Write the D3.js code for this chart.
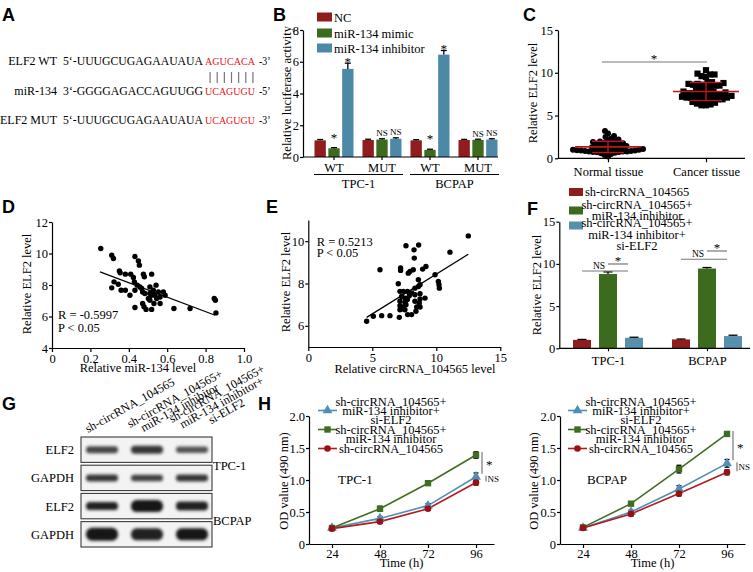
<!DOCTYPE html>
<html><head><meta charset="utf-8">
<script src="https://cdn.jsdelivr.net/npm/d3@7/dist/d3.min.js"></script>
<style>html,body{margin:0;padding:0;background:#fff;}svg{display:block;}</style>
</head><body>
<svg id="fig" width="753" height="572" xmlns="http://www.w3.org/2000/svg"></svg>
<script>
/* ================= DATA ================= */
// A – sequences
const seqLabels = ["ELF2 WT","miR-134","ELF2 MUT"];
const seqHeads  = ["5‘-UUUGCUGAGAAUAUA","3‘-GGGGAGACCAGUUGG","5‘-UUUGCUGAGAAUAUA"];
const seqSites  = ["AGUCACA","UCAGUGU","UCAGUGU"];
const seqTails  = ["-3’","-5’","-3’"];
// B – luciferase
const bGroups = ["WT","MUT","WT","MUT"];
const bCells  = ["TPC-1","BCPAP"];
const bSeries = ["NC","miR-134 mimic","miR-134 inhibitor"];
const bNC       = [1.05,1.07,1.05,1.07];
const bMimic    = [0.55,1.10,0.45,1.08];
const bInhib    = [5.55,1.15,6.45,1.10];
const bNCErr    = [0.05,0.05,0.04,0.04];
const bMimicErr = [0.04,0.05,0.04,0.04];
const bInhibErr = [0.36,0.06,0.26,0.05];
const bMarks = [["","*","*"],["","NS","NS"],["","*","*"],["","NS","NS"]];
// C – tissue scatter
const cGroups = ["Normal tissue","Cancer tissue"];
const cNormal = [3.2,2.9,2.6,2.5,2.3,2.2,2.1,2.0,1.95,1.9,1.85,1.8,1.75,1.7,1.65,1.6,1.55,1.5,1.45,1.4,1.35,1.3,1.25,1.2,1.2,1.15,1.1,1.1,1.05,1.0,1.0,0.95,0.95,0.9,0.9,0.9,0.85,0.85,0.8,0.8,0.8,0.75,0.75,0.7,0.7,0.65,0.6,0.5,0.4,0.2];
const cCancer = [10.3,9.9,9.8,9.8,9.6,9.5,8.9,8.8,8.8,8.7,8.7,8.6,8.6,8.5,8.5,8.4,8.3,8.2,8.0,7.9,7.8,7.8,7.7,7.7,7.6,7.6,7.5,7.5,7.4,7.4,7.3,7.3,7.2,7.2,7.1,7.1,7.1,7.0,7.0,6.9,6.9,6.8,6.8,6.7,6.6,6.5,6.4,6.3,6.2,6.2];
// D – miR-134 vs ELF2
const dX = [0.254,0.311,0.320,0.311,0.323,0.345,0.351,0.355,0.360,0.382,0.382,0.406,0.410,0.424,0.429,0.432,0.450,0.455,0.432,0.444,0.432,0.458,0.467,0.476,0.481,0.472,0.484,0.472,0.479,0.490,0.519,0.510,0.510,0.510,0.519,0.528,0.542,0.536,0.545,0.554,0.563,0.563,0.580,0.589,0.531,0.635,0.719,0.845,0.851,0.854,0.502,0.519];
const dY = [10.32,9.89,9.68,7.82,8.20,8.05,8.89,8.78,7.67,7.67,8.69,7.35,8.69,8.48,8.20,9.81,9.53,9.26,7.67,7.99,6.57,7.88,7.78,8.69,8.52,7.56,7.46,6.83,6.62,6.45,8.69,7.88,7.46,7.03,6.45,7.67,7.99,7.35,7.14,7.56,7.24,6.83,7.56,7.35,6.83,6.51,6.51,7.14,7.03,6.23,7.14,7.35];
const dFitX = [0.25,0.85], dFitY = [8.83,6.08];
const dStats = ["R = -0.5997","P < 0.05"];
// E – circRNA vs ELF2
const eX = [12.5,11.07,7.63,8.62,8.26,8.28,5.6,7.21,7.21,7.81,7.94,8.2,8.93,9.19,9.9,10.16,10.21,10.24,8.6,7.03,8.73,7.16,7.42,7.74,8.33,8.6,8.08,8.33,8.73,7.29,7.55,7.89,8.73,9.12,7.16,7.55,7.74,8.33,8.67,7.16,7.42,7.63,7.16,7.37,7.76,8.07,7.11,6.38,5.73,5.08,4.56,8.41,8.47,7.55,8.73];
const eY = [10.25,9.48,9.78,9.82,9.59,9.2,8.65,8.73,8.62,8.49,8.57,8.65,8.68,8.8,8.41,8.1,7.94,7.78,8.18,7.99,7.94,7.63,7.63,7.63,7.78,7.86,7.55,7.47,7.52,7.39,7.31,7.42,7.27,7.31,7.16,7.11,7.24,7.16,7.08,6.95,6.89,7.0,6.76,6.8,6.53,6.53,6.4,6.48,6.48,6.45,6.22,6.69,6.89,6.76,6.89];
const eFitX = [4.56,12.5], eFitY = [6.4,9.38];
const eStats = ["R = 0.5213","P < 0.05"];
// F – ELF2 level bars
const fCats = ["TPC-1","BCPAP"];
const fLegend = [["sh-circRNA_104565"],["sh-circRNA_104565+","miR-134 inhibitor"],["sh-circRNA_104565+","miR-134 inhibitor+","si-ELF2"]];
const fCtrl = [1.00,1.05], fCtrlErr = [0.05,0.05];
const fInh  = [8.80,9.45], fInhErr  = [0.25,0.12];
const fSi   = [1.25,1.45], fSiErr   = [0.06,0.10];
const fNsLine = [9.16,10.55], fStarLine = [9.99,11.53];
// G – western blot
const gLanes = [["sh-circRNA_104565"],["sh-circRNA_104565+","miR-134 inhibitor"],["sh-circRNA_104565+","miR-134 inhibitor+","si-ELF2"]];
const gRows  = ["ELF2","GAPDH","ELF2","GAPDH"];
const gCells = ["TPC-1","BCPAP"];
const gBandH = [[7,8,6.5],[7,6.5,7],[8,12,9],[13,12,12]];
const gBandI = [[0.78,0.85,0.72],[0.85,0.8,0.85],[0.95,1,0.95],[1,0.95,1]];
// H – CCK-8 curves
const hTimes = [24,48,72,96];
const hLegend = [["sh-circRNA_104565+","miR-134 inhibitor+","si-ELF2"],["sh-circRNA_104565+","miR-134 inhibitor"],["sh-circRNA_104565"]];
const hTpcSi   = [0.25,0.40,0.60,1.05], hTpcSiErr   = [0.02,0.03,0.03,0.06];
const hTpcInh  = [0.25,0.55,0.95,1.39], hTpcInhErr  = [0.02,0.04,0.03,0.05];
const hTpcCtrl = [0.24,0.35,0.55,0.96], hTpcCtrlErr = [0.02,0.03,0.02,0.04];
const hBcSi    = [0.25,0.50,0.86,1.26], hBcSiErr    = [0.02,0.03,0.05,0.06];
const hBcInh   = [0.26,0.63,1.17,1.72], hBcInhErr   = [0.02,0.02,0.06,0.03];
const hBcCtrl  = [0.25,0.47,0.79,1.12], hBcCtrlErr  = [0.02,0.03,0.04,0.04];

/* ================= HELPERS ================= */
const svg = d3.select("#fig");
const SERIF = "'Liberation Serif','Times New Roman',Times,serif";
const SANS = "'Liberation Sans',Arial,Helvetica,sans-serif";
svg.attr("font-family", SERIF);
svg.append("rect").attr("width",753).attr("height",572).attr("fill","#fff");

function letter(t,x,y){ svg.append("text").attr("x",x).attr("y",y).attr("font-family",SANS).attr("font-weight","bold").attr("font-size",18).text(t); }
function txt(t,x,y,o={}){ return svg.append("text").attr("x",x).attr("y",y).attr("font-size",o.fs||12.5).attr("text-anchor",o.anchor||"start").attr("fill",o.fill||"#000").text(t); }
function ylab(t,x,y){ svg.append("text").attr("transform",`translate(${x},${y}) rotate(-90)`).attr("text-anchor","middle").attr("font-size",12.5).text(t); }
function axisG(tx,ty,ax,domainD){
  const g = svg.append("g").attr("transform",`translate(${tx},${ty})`).call(ax);
  g.attr("font-family",SERIF).attr("font-size",12.5);
  g.selectAll(".domain, .tick line").attr("stroke","#000").attr("stroke-width",1.2);
  g.selectAll(".tick text").attr("fill","#000");
  if(domainD) g.select(".domain").attr("d",domainD);
  return g;
}
function line(x1,y1,x2,y2,c="#000",w=1.2){ return svg.append("line").attr("x1",x1).attr("y1",y1).attr("x2",x2).attr("y2",y2).attr("stroke",c).attr("stroke-width",w); }
function errBar(x,y0,y1,cap,both,y2){ line(x,y0,x,y1,"#000",1.3); line(x-cap/2,y1,x+cap/2,y1,"#000",1.3); if(both){ line(x,y0,x,y2,"#000",1.3); line(x-cap/2,y2,x+cap/2,y2,"#000",1.3);} }
const fmt1 = d => d===0 ? "0" : d3.format(".1f")(d);
const fmtInt = d3.format("d");

/* ================= A ================= */
letter("A",2,21);
const aY = [65,95,124];
seqLabels.forEach((l,i)=>{
  txt(l,57,aY[i],{anchor:"end",fs:12});
  svg.append("text").attr("x",63).attr("y",aY[i]).attr("font-size",12).attr("textLength",140).attr("lengthAdjust","spacingAndGlyphs").text(seqHeads[i]);
  svg.append("text").attr("x",205).attr("y",aY[i]).attr("font-size",11).attr("fill","#e8141c").attr("textLength",50).attr("lengthAdjust","spacingAndGlyphs").text(seqSites[i]);
  svg.append("text").attr("x",259).attr("y",aY[i]).attr("font-size",11.5).attr("textLength",11.5).attr("lengthAdjust","spacingAndGlyphs").text(seqTails[i]);
});
d3.range(seqSites[0].length).forEach(k=>{
  const x = 205 + (k+0.5)*50/seqSites[0].length + 1.5;
  line(x,72,x,83,"#777",1.2);
});

/* ================= B ================= */
letter("B",273,21);
const bx0 = d3.scaleBand().domain(d3.range(bGroups.length)).range([310,502]);
const bx1 = d3.scaleBand().domain(d3.range(bSeries.length)).range([-19.5,19.5]).paddingInner(0.18);
const by  = d3.scaleLinear().domain([0,8]).range([157,30]);
const bColors = ["#8f1d1d","#3c6b20","#4d89a7"];
const bVals = [bNC,bMimic,bInhib], bErrs = [bNCErr,bMimicErr,bInhibErr];
bVals.forEach((vals,s)=>vals.forEach((v,g)=>{
  const w = bx1.bandwidth();
  const cx = bx0(g)+bx0.bandwidth()/2 + bx1(s) + w/2;
  svg.append("rect").attr("x",cx-w/2).attr("y",by(v)).attr("width",w).attr("height",by(0)-by(v)).attr("fill",bColors[s]);
  const top = by(v+bErrs[s][g]);
  errBar(cx,by(v),top,6);
  const m = bMarks[g][s];
  if(m==="*") txt("*",cx,top+(v>3?3:-6),{anchor:"middle",fs:13});
  else if(m) txt(m,cx,top-2.5,{anchor:"middle",fs:9});
}));
axisG(303,0,d3.axisLeft(by).tickValues([0,2,4,6,8]).tickFormat(fmtInt).tickSize(3).tickSizeOuter(0).tickPadding(1));
axisG(0,157,d3.axisBottom(bx0).tickSize(3).tickSizeOuter(0).tickPadding(3).tickFormat(i=>bGroups[i]),"M303,0H498");
[[0,1],[2,3]].forEach((pr,i)=>{
  const x1 = bx0(pr[0])+4, x2 = bx0(pr[1])+bx0.bandwidth()-3;
  line(x1,174.5,x2,174.5,"#000",1);
  txt(bCells[i],(x1+x2)/2,188,{anchor:"middle"});
});
ylab("Relative luciferase activity",291,93);
bSeries.forEach((s,i)=>{
  const yc = [17,33,48][i];
  svg.append("rect").attr("x",317).attr("y",yc-4.5).attr("width",15).attr("height",9).attr("fill",bColors[i]);
  txt(s,334,yc+4.5);
});

/* ================= C ================= */
letter("C",523,21);
const cy = d3.scaleLinear().domain([0,15]).range([158.3,30]);
const cxs = d3.scalePoint().domain(cGroups).range([608,706]);
function swarm(vals,ys,d){
  const pts = vals.map(v=>({v,y:ys(v)})).sort((a,b)=>a.v-b.v);
  const placed=[];
  pts.forEach(p=>{
    for(let k=0;k<600;k++){
      const off = (k%2===0?1:-1)*Math.ceil(k/2)*0.5;
      if(placed.every(q=>(q.x-off)**2+(q.y-p.y)**2 >= d*d)){ p.x=off; break; }
    }
    placed.push(p);
  });
  return placed;
}
swarm(cNormal,cy,3.8).forEach(p=>svg.append("circle").attr("cx",cxs(cGroups[0])+p.x).attr("cy",p.y).attr("r",3).attr("fill","#000"));
swarm(cCancer,cy,4.5).forEach(p=>svg.append("rect").attr("x",cxs(cGroups[1])+p.x-3.1).attr("y",p.y-3.1).attr("width",6.2).attr("height",6.2).attr("fill","#000"));
[cNormal,cCancer].forEach((vals,i)=>{
  const m = d3.mean(vals), sd = d3.deviation(vals), x = cxs(cGroups[i]);
  const c = "#c0141c";
  line(x-33,cy(m),x+33,cy(m),c,1.6);
  line(x,cy(m-sd),x,cy(m+sd),c,1.4);
  line(x-16,cy(m+sd),x+16,cy(m+sd),c,1.4);
  line(x-16,cy(m-sd),x+16,cy(m-sd),c,1.4);
});
axisG(558,0,d3.axisLeft(cy).tickValues([0,5,10,15]).tickFormat(fmtInt).tickSize(3).tickSizeOuter(0).tickPadding(2));
axisG(0,158.3,d3.axisBottom(cxs).tickSize(4).tickSizeOuter(0).tickPadding(5),"M558,0H745");
ylab("Relative ELF2 level",537,93);
line(cxs(cGroups[0])-6,62,cxs(cGroups[1])+1,62,"#777",1.2);
txt("*",(cxs(cGroups[0])+cxs(cGroups[1]))/2-3,63,{anchor:"middle",fs:13});

/* ================= D ================= */
letter("D",2,213);
const dxs = d3.scaleLinear().domain([0,1]).range([52,244]);
const dys = d3.scaleLinear().domain([4,12]).range([348,222]);
dX.forEach((x,i)=>svg.append("circle").attr("cx",dxs(x)).attr("cy",dys(dY[i])).attr("r",2.7).attr("fill","#000"));
line(dxs(dFitX[0]),dys(dFitY[0]),dxs(dFitX[1]),dys(dFitY[1]),"#000",1.3);
axisG(52,0,d3.axisLeft(dys).tickValues([4,6,8,10,12]).tickFormat(fmtInt).tickSize(3).tickSizeOuter(0).tickPadding(1));
axisG(0,348,d3.axisBottom(dxs).tickValues([0,0.2,0.4,0.6,0.8,1]).tickFormat(fmt1).tickSize(4).tickSizeOuter(0).tickPadding(2));
ylab("Relative ELF2 level",31,284);
txt("Relative miR-134 level",138,372,{anchor:"middle"});
txt(dStats[0],58,318.5); txt(dStats[1],58,332);

/* ================= E ================= */
letter("E",266,213);
const exs = d3.scaleLinear().domain([0,15]).range([308.3,500.3]);
const eys = d3.scaleLinear().domain([5,11]).range([347,220]);
eX.forEach((x,i)=>svg.append("circle").attr("cx",exs(x)).attr("cy",eys(eY[i])).attr("r",2.7).attr("fill","#000"));
line(exs(eFitX[0]),eys(eFitY[0]),exs(eFitX[1]),eys(eFitY[1]),"#000",1.3);
axisG(308.3,0,d3.axisLeft(eys).tickValues([6,8,10]).tickFormat(fmtInt).tickSize(3).tickSizeOuter(0).tickPadding(1));
axisG(0,347,d3.axisBottom(exs).tickValues([0,5,10,15]).tickFormat(fmtInt).tickSize(4).tickSizeOuter(0).tickPadding(2));
ylab("Relative ELF2 level",290,282);
txt("Relative circRNA_104565 level",415,372.5,{anchor:"middle"});
txt(eStats[0],316.7,245.5); txt(eStats[1],316.7,257);

/* ================= F ================= */
letter("F",527,215);
const fys = d3.scaleLinear().domain([0,15]).range([348.3,221.7]);
const fxs = d3.scalePoint().domain(fCats).range([608,707]);
const fColors = ["#8f1d1d","#3c6b20","#5690ad"];
const fVals = [fCtrl,fInh,fSi], fErrs = [fCtrlErr,fInhErr,fSiErr];
const fOff = [-26,0,26], fW = 18;
fVals.forEach((vals,s)=>vals.forEach((v,g)=>{
  const cx = fxs(fCats[g])+fOff[s];
  svg.append("rect").attr("x",cx-fW/2).attr("y",fys(v)).attr("width",fW).attr("height",fys(0)-fys(v)).attr("fill",fColors[s]);
  errBar(cx,fys(v),fys(v+fErrs[s][g]),9);
}));
fCats.forEach((c,g)=>{
  const xr = fxs(c)+fOff[0], xg = fxs(c)+fOff[1], xb = fxs(c)+fOff[2];
  const yn = fys(fNsLine[g]), ys = fys(fStarLine[g]);
  line(xr,yn,xb-6,yn,"#777",1.2);
  txt("NS",(xr+xg)/2+4,yn-2,{anchor:"middle",fs:9.5});
  line(xg,ys,xb-6,ys,"#777",1.2);
  txt("*",(xg+xb-6)/2,ys+1,{anchor:"middle",fs:13});
});
axisG(559.3,0,d3.axisLeft(fys).tickValues([0,5,10,15]).tickFormat(fmtInt).tickSize(3).tickSizeOuter(0).tickPadding(1));
axisG(0,348.3,d3.axisBottom(fxs).tickSize(3).tickSizeOuter(0).tickPadding(5),"M559.3,0H750");
ylab("Relative ELF2 level",541,285);
const fLegRows = [[192],[205,215.5],[223,234.5,246]], fSw = [192,210.5,225.5];
fLegend.forEach((lines,i)=>{
  svg.append("rect").attr("x",569).attr("y",fSw[i]-4).attr("width",14).attr("height",8).attr("fill",fColors[i]);
  lines.forEach((t,k)=>{
    if(lines.length===1) txt(t,585,fLegRows[i][k]+4);
    else txt(t,637,fLegRows[i][k]+4,{anchor:"middle"});
  });
});

/* ================= G ================= */
letter("G",2,410);
const defs = svg.append("defs");
defs.append("filter").attr("id","blur").attr("x","-30%").attr("y","-80%").attr("width","160%").attr("height","260%")
  .append("feGaussianBlur").attr("stdDeviation",1.6);
const gy = d3.scaleBand().domain(d3.range(gRows.length)).range([437,547]).paddingInner(0.1);
const gx = d3.scalePoint().domain(d3.range(gLanes.length)).range([102,192]);
gRows.forEach((r,i)=>{
  const y0 = gy(i), h = gy.bandwidth();
  svg.append("rect").attr("x",81).attr("y",y0).attr("width",131).attr("height",h).attr("fill","#f3f3f3").attr("stroke","#3a3a3a").attr("stroke-width",1.1);
  gLanes.forEach((l,j)=>{
    const bh = gBandH[i][j];
    svg.append("rect").attr("x",gx(j)-16).attr("y",y0+h/2-bh/2).attr("width",32).attr("height",bh).attr("rx",bh/2.2)
      .attr("fill","#151515").attr("opacity",gBandI[i][j]).attr("filter","url(#blur)");
  });
  txt(r,74,y0+h/2+4.5,{anchor:"end"});
});
txt(gCells[0],213,470); txt(gCells[1],213,525);
gLanes.forEach((lines,j)=>{
  const n = lines.length;
  const g = svg.append("g").attr("transform",`translate(${gx(j)-14-3*(n-1)},${433-5*(n-1)}) rotate(-29)`);
  const first = g.append("text").attr("font-size",12).text(lines[0]);
  const w = first.node().getComputedTextLength();
  first.attr("x",w/2).attr("text-anchor","middle");
  lines.slice(1).forEach((t,k)=>g.append("text").attr("font-size",12).attr("x",w/2).attr("y",(k+1)*10).attr("text-anchor","middle").text(t));
});

/* ================= H ================= */
letter("H",258,410);
const hy = d3.scaleLinear().domain([0,2]).range([544,416]);
const hColors = ["#4f8fb5","#3f6e22","#b01c20"];
const hMarkerFill = ["#4f8fb5","#3f6e22","#9a1014"];
function marker(type,x,y,color){
  if(type===0) svg.append("path").attr("d",d3.symbol(d3.symbolTriangle).size(42)()).attr("transform",`translate(${x},${y})`).attr("fill",color);
  else if(type===1) svg.append("rect").attr("x",x-3.2).attr("y",y-3.2).attr("width",6.4).attr("height",6.4).attr("fill",color);
  else svg.append("circle").attr("cx",x).attr("cy",y).attr("r",3.3).attr("fill",color);
}
function drawH(x0,x1,series,errs,cell,cellX,legX,textX){
  const hx = d3.scaleLinear().domain([12.5,105]).range([x0,x1]);
  series.forEach((vals,s)=>{
    svg.append("path").attr("d",d3.line().x((d,i)=>hx(hTimes[i])).y(d=>hy(d))(vals)).attr("fill","none").attr("stroke",hColors[s]).attr("stroke-width",1.6);
  });
  series.forEach((vals,s)=>vals.forEach((v,i)=>errBar(hx(hTimes[i]),hy(v),hy(v+errs[s][i]),5,true,hy(v-errs[s][i]))));
  series.forEach((vals,s)=>vals.forEach((v,i)=>marker(s,hx(hTimes[i]),hy(v),hMarkerFill[s])));
  axisG(x0,0,d3.axisLeft(hy).tickValues([0,0.5,1,1.5,2]).tickFormat(fmt1).tickSize(3).tickSizeOuter(0).tickPadding(1));
  axisG(0,544,d3.axisBottom(hx).tickValues(hTimes).tickFormat(fmtInt).tickSize(4).tickSizeOuter(0).tickPadding(1));
  const xe = hx(96);
  const [si,inh,ctrl] = series;
  line(xe+6,hy(inh[3])-3,xe+6,hy(si[3])-3,"#777",1.2);
  txt("*",xe+10,(hy(inh[3])+hy(si[3]))/2+3,{fs:13});
  line(xe+10,hy(si[3])-1,xe+10,hy(ctrl[3])-1,"#777",1.2);
  txt("NS",xe+11.5,(hy(si[3])+hy(ctrl[3]))/2+2,{fs:9});
  txt(cell,cellX,484,{fs:13});
  txt("Time (h)",(x0+x1)/2,567,{anchor:"middle"});
  const rows = [[402,411,420],[429.5,438.5],[448.5]], mk = [410.5,429.5,448.5];
  hLegend.forEach((lines,s)=>{
    line(legX,mk[s],legX+19,mk[s],hColors[s],1.6);
    marker(s,legX+9.5,mk[s],hMarkerFill[s]);
    lines.forEach((t,k)=>txt(t,textX,rows[s][k]+4,{anchor:"middle"}));
  });
}
drawH(309,494,[hTpcSi,hTpcInh,hTpcCtrl],[hTpcSiErr,hTpcInhErr,hTpcCtrlErr],"TPC-1",338,318,391);
drawH(560,745,[hBcSi,hBcInh,hBcCtrl],[hBcSiErr,hBcInhErr,hBcCtrlErr],"BCPAP",587,568,641);
ylab("OD value (490 nm)",288,481);
ylab("OD value (490 nm)",538,481);
</script>
</body></html>
